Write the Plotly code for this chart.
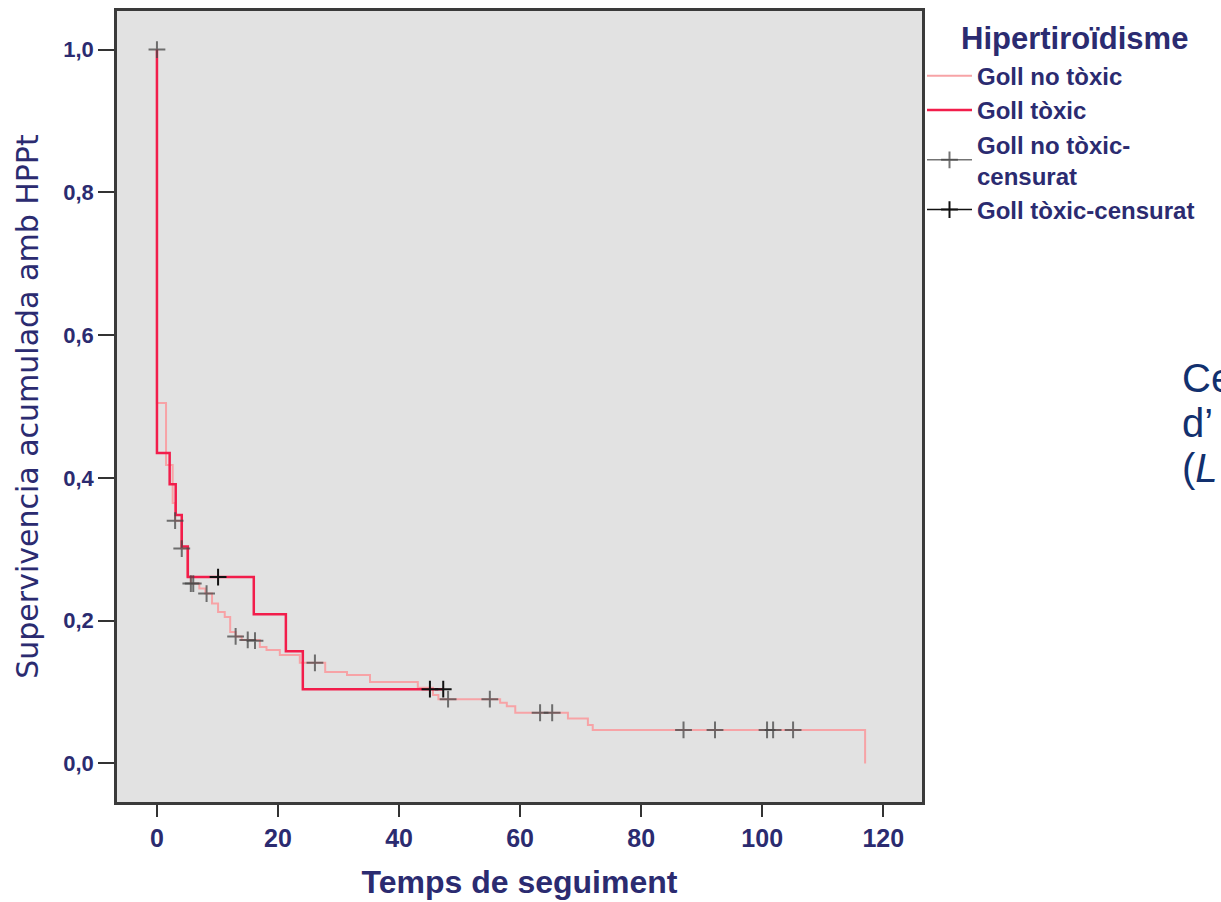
import plotly.graph_objects as go

# ---- data ----
# Goll no tòxic (Kaplan-Meier step curve)
pink_t = [0, 0, 1.5, 2.6, 3.0, 4.0, 5.0, 5.6, 7.0, 8.0, 9.1, 10.1, 11.2, 12.1, 13.0, 14.0,
          17.0, 18.1, 20.3, 23.6, 27.8, 31.4, 35.2, 43.1, 45.6, 46.5, 56.7, 57.8, 59.2,
          67.9, 71.2, 72.0, 117.0, 117.0]
pink_s = [1.0, 0.505, 0.418, 0.365, 0.340, 0.301, 0.262, 0.252, 0.245, 0.238, 0.224, 0.212,
          0.205, 0.184, 0.178, 0.173, 0.163, 0.159, 0.152, 0.141, 0.128, 0.124, 0.114, 0.106,
          0.096, 0.090, 0.085, 0.080, 0.071, 0.063, 0.054, 0.047, 0.047, 0.0]

# Goll tòxic
red_t = [0, 0, 2.1, 3.1, 4.1, 5.1, 16.0, 21.3, 24.1, 47.3]
red_s = [1.0, 0.435, 0.391, 0.348, 0.304, 0.261, 0.209, 0.157, 0.104, 0.104]

# censored observations
cens_pink_t = [0, 3.0, 4.1, 5.6, 6.0, 8.2, 13.0, 15.0, 16.2, 26.1, 48.1, 55.0, 63.3, 65.3,
               87.0, 92.2, 100.8, 101.8, 105.1]
cens_pink_s = [1.0, 0.340, 0.301, 0.252, 0.252, 0.238, 0.178, 0.173, 0.172, 0.141, 0.090,
               0.090, 0.071, 0.071, 0.047, 0.047, 0.047, 0.047, 0.047]
cens_red_t = [10.1, 45.1, 47.3]
cens_red_s = [0.261, 0.104, 0.104]

y_ticks = [0.0, 0.2, 0.4, 0.6, 0.8, 1.0]
y_ticktext = ["0,0", "0,2", "0,4", "0,6", "0,8", "1,0"]
x_ticks = [0, 20, 40, 60, 80, 100, 120]

NAVY = "#2b2b70"
FONT = "Liberation Sans, Arial, sans-serif"


def gapped(vals):
    out = []
    for v in vals:
        out += [v, None]
    return out


fig = go.Figure()
fig.add_trace(go.Scatter(x=pink_t, y=pink_s, mode="lines", line_shape="hv",
                         line=dict(color="#f7a3a6", width=2), name="Goll no tòxic"))
fig.add_trace(go.Scatter(x=red_t, y=red_s, mode="lines", line_shape="hv",
                         line=dict(color="#f21d4b", width=2.5), name="Goll tòxic"))
fig.add_trace(go.Scatter(x=gapped(cens_pink_t), y=gapped(cens_pink_s), mode="lines+markers",
                         connectgaps=False,
                         line=dict(color="rgba(70,70,70,0.75)", width=1.5),
                         marker=dict(symbol="cross-thin", size=12,
                                     line=dict(color="rgba(70,70,70,0.75)", width=2)),
                         name="Goll no tòxic-<br>censurat"))
fig.add_trace(go.Scatter(x=gapped(cens_red_t), y=gapped(cens_red_s), mode="lines+markers",
                         connectgaps=False,
                         line=dict(color="#111111", width=1.5),
                         marker=dict(symbol="cross-thin", size=12,
                                     line=dict(color="#111111", width=2)),
                         name="Goll tòxic-censurat"))

fig.update_layout(
    width=1221, height=902,
    margin=dict(l=117, r=299, t=8, b=99),
    paper_bgcolor="white",
    plot_bgcolor="#e2e2e2",
    font=dict(family=FONT, color=NAVY),
    showlegend=True,
    legend=dict(x=1.0, xanchor="left", y=0.946, yanchor="top",
                font=dict(size=24, color=NAVY, family=FONT, weight="bold"),
                itemwidth=45, bgcolor="rgba(0,0,0,0)", borderwidth=0,
                tracegroupgap=0),
    xaxis=dict(range=[-6.6, 126.4], tickvals=x_ticks, ticks="outside", ticklen=12,
               tickwidth=2, tickcolor="#333333", showgrid=False, zeroline=False,
               showline=True, linecolor="#3a3a3a", linewidth=2.5, mirror=True,
               tickfont=dict(size=25, color=NAVY, family=FONT, weight="bold"),
               title=dict(text="Temps de seguiment", standoff=20,
                          font=dict(size=32, color=NAVY, family=FONT, weight="bold"))),
    yaxis=dict(range=[-0.054, 1.054], tickvals=y_ticks, ticktext=y_ticktext,
               ticks="outside", ticklen=16, tickwidth=2, tickcolor="#333333",
               showgrid=False, zeroline=False,
               showline=True, linecolor="#3a3a3a", linewidth=2.5, mirror=True,
               tickfont=dict(size=22, color=NAVY, family=FONT, weight="bold"),
               title=dict(text="Supervivencia acumulada amb HPPt", standoff=16,
                          font=dict(size=30, color=NAVY, family="DejaVu Sans"))),
)

# legend title
fig.add_annotation(text="<b>Hipertiroïdisme</b>", xref="paper", yref="paper",
                   x=(959 - 117) / 805, y=(803 - 36) / 795, xanchor="left", yanchor="middle",
                   showarrow=False, font=dict(size=31, color=NAVY, family=FONT))

# cut-off slide text on the right
DARK = "#12306e"
for txt, ypx in [("Ce", 377), ("d’", 422), ("(<i>L</i>", 467)]:
    fig.add_annotation(text=txt, xref="paper", yref="paper",
                       x=(1180 - 117) / 805, y=(803 - ypx) / 795,
                       xanchor="left", yanchor="middle", showarrow=False,
                       font=dict(size=40, color=DARK, family=FONT))

fig.write_html("out.html")
